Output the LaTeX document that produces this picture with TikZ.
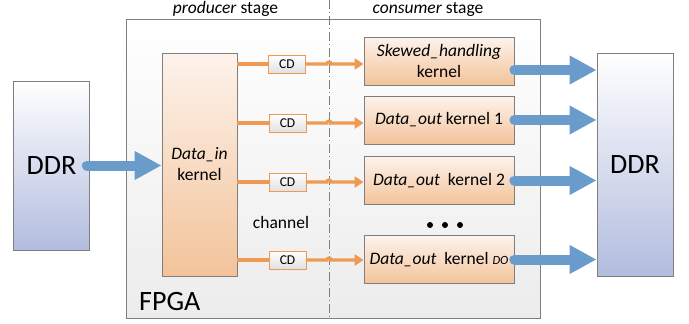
\documentclass[tikz,border=0pt]{standalone}
\usepackage{fontspec}
\setmainfont{Carlito}
\usetikzlibrary{arrows.meta,calc}
\definecolor{borderGray}{HTML}{7F7F7F}
\definecolor{orangeL}{HTML}{EE9A52}
\definecolor{blueA}{HTML}{6A9CCB}
\definecolor{ddrBot}{HTML}{B2BCDE}
\definecolor{kTop}{HTML}{FDF3EC}
\definecolor{kBot}{HTML}{F3C39A}
\definecolor{fpgaBot}{HTML}{ECECEC}
\tikzset{
  fpgabox/.style={draw=borderGray, line width=0.8pt, top color=white, bottom color=fpgaBot, inner sep=0pt},
  ddrbox/.style={draw=borderGray, line width=0.8pt, top color=white, bottom color=ddrBot, minimum width=76pt, inner sep=0pt, font=\fontsize{28}{32}\selectfont},
  kernelbox/.style={draw=borderGray, line width=0.8pt, top color=kTop, bottom color=kBot, minimum width=150pt, minimum height=48pt, inner sep=0pt, align=center, font=\fontsize{17.5}{21}\selectfont},
  cdbox/.style={draw=orangeL, line width=0.8pt, top color=white, bottom color=fpgaBot!90!gray, minimum width=37pt, minimum height=18pt, inner sep=0pt, font=\fontsize{13.5}{15}\selectfont},
  chan/.style={draw=orangeL, line width=3.2pt, -{Triangle[length=9pt,width=11pt]}},
  chanin/.style={draw=orangeL, line width=3.2pt},
  bigarrow/.style={draw=blueA, line width=10pt, line cap=round, -{Triangle[length=27pt,width=27pt]}},
  divline/.style={draw=borderGray, line width=0.8pt, dash pattern=on 9pt off 3pt on 1pt off 3pt},
  lbl/.style={inner sep=0pt, font=\fontsize{17.5}{21}\selectfont},
  dotc/.style={fill=black, circle, inner sep=0pt, minimum size=6pt}
}
\begin{document}
\begin{tikzpicture}[x=1pt,y=-1pt]
\useasboundingbox (0,0) rectangle (689,324);
% FPGA
\node[fpgabox, minimum width=414pt, minimum height=299pt] (fpga) at (333.5,168.5) {};
\node[inner sep=0pt, anchor=base west, font=\fontsize{28}{32}\selectfont] (fpgalbl) at (139,310) {FPGA};
% divider
\coordinate (divtop) at (329,0);
\coordinate (divbot) at (329,318);
\draw[divline] (divtop) -- (divbot);
% stage labels
\node[lbl] (prod) at (225.5,9) {\textit{producer} stage};
\node[lbl] (cons) at (428,9) {\textit{consumer} stage};
% DDR boxes
\node[ddrbox, minimum height=169pt] (ddrL) at (51.5,165.5) {DDR};
\node[ddrbox, minimum height=223pt] (ddrR) at (635,164.5) {DDR};
% Data_in
\node[kernelbox, minimum width=75pt, minimum height=223pt] (din) at (199.5,164.5) {\textit{Data\_in}\\kernel};
% consumer kernels
\node[kernelbox] (k0) at (439,61) {\textit{Skewed\_handling}\\kernel};
\node[kernelbox] (k1) at (439,120) {\textit{Data\_out} kernel 1};
\node[kernelbox] (k2) at (439,180.5) {\textit{Data\_out}\ \ kernel 2};
\node[kernelbox] (k3) at (439,259.5) {\textit{Data\_out}\ \ kernel {\fontsize{12.5}{13}\selectfont\textit{DO}}};
% dots
\node[dotc] (d1) at (430,225) {};
\node[dotc] (d2) at (445,225) {};
\node[dotc] (d3) at (460,225) {};
% CD boxes
\node[cdbox] (cd0) at (287,64) {CD};
\node[cdbox] (cd1) at (287.5,123) {CD};
\node[cdbox] (cd2) at (287.5,182) {CD};
\node[cdbox] (cd3) at (287.5,260) {CD};
\node[lbl] (chl) at (281,222) {channel};
% channels
\foreach \c/\k in {cd0/k0,cd1/k1,cd2/k2,cd3/k3}{
  \draw[chanin] (din.east |- \c.west) -- (\c.west);
  \draw[chan] (\c.east) -- ([xshift=-2pt]divtop |- \c.east) arc[start angle=180,end angle=0,radius=2pt] -- (\k.west |- \c.east);
}
% blue arrows
\coordinate (k0out) at ([yshift=-9pt]k0.east);
\draw[bigarrow] ([xshift=-3pt]ddrL.east) -- (din.west |- ddrL.east);
\draw[bigarrow] (k0out) -- (ddrR.west |- k0out);
\draw[bigarrow] (k1.east) -- (ddrR.west |- k1.east);
\draw[bigarrow] (k2.east) -- (ddrR.west |- k2.east);
\draw[bigarrow] (k3.east) -- (ddrR.west |- k3.east);
\end{tikzpicture}
\end{document}
